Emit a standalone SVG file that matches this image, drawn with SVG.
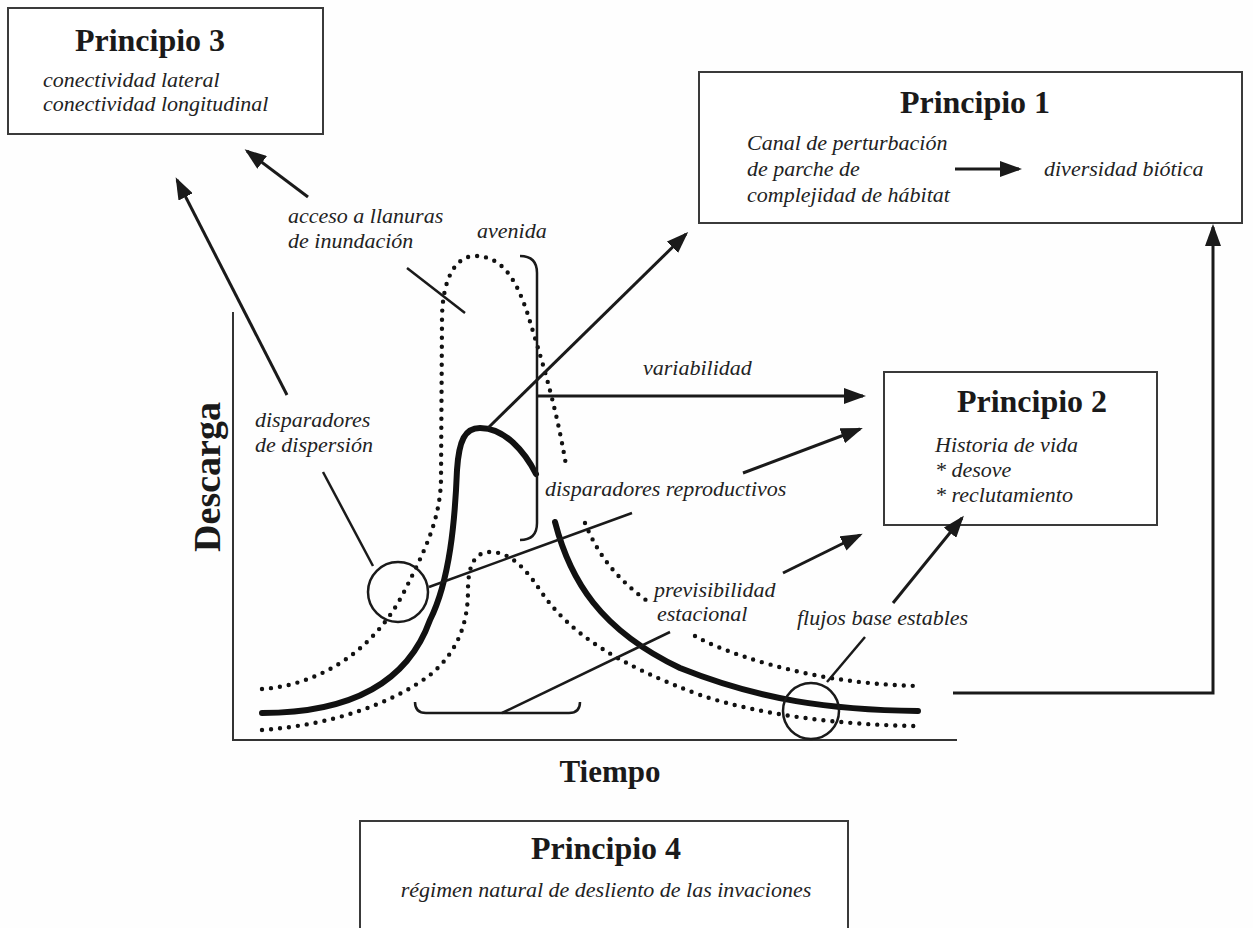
<svg xmlns="http://www.w3.org/2000/svg" width="1253" height="928" viewBox="0 0 1253 928">
<style>
.box{fill:#fff;stroke:#3a3a3a;stroke-width:2}
.title{font-family:"Liberation Serif","Times New Roman",serif;font-weight:bold;font-size:32px;text-anchor:middle;fill:#1a1a1a}
.it{font-family:"Liberation Serif","Times New Roman",serif;font-style:italic;font-size:22px;fill:#222}
.ln{stroke:#1a1a1a;stroke-width:2.5;fill:none}
.arr{stroke:#1a1a1a;stroke-width:3;fill:none;marker-end:url(#ah)}
.thick{stroke:#111;stroke-width:6;fill:none;stroke-linecap:round}
.dot{stroke:#111;stroke-width:4.4;fill:none;stroke-dasharray:0 9;stroke-linecap:round}
.axis{stroke:#333;stroke-width:2;fill:none}
</style>
<defs>
<marker id="ah" viewBox="0 0 22 16" refX="19" refY="8" markerWidth="22" markerHeight="16" markerUnits="userSpaceOnUse" orient="auto">
<path d="M0,0 L22,8 L0,16 z" fill="#1a1a1a"/>
</marker>
</defs>
<rect width="1253" height="928" fill="#fefefe"/>

<g id="p3">
<rect class="box" x="8" y="8" width="315" height="126"/>
<text class="title" x="150" y="51">Principio 3</text>
<text class="it" x="43" y="87">conectividad lateral</text>
<text class="it" x="43" y="111">conectividad longitudinal</text>
</g>

<g id="p1">
<rect class="box" x="699" y="72" width="543" height="151"/>
<text class="title" x="975" y="113">Principio 1</text>
<text class="it" x="747" y="150">Canal de perturbación</text>
<text class="it" x="747" y="176">de parche de</text>
<text class="it" x="747" y="202">complejidad de hábitat</text>
<line class="arr" x1="955" y1="169" x2="1019" y2="169"/>
<text class="it" x="1044" y="176">diversidad biótica</text>
</g>

<g id="p2">
<rect class="box" x="884" y="372" width="273" height="153"/>
<text class="title" x="1032" y="412">Principio 2</text>
<text class="it" x="935" y="452">Historia de vida</text>
<text class="it" x="935" y="477">* desove</text>
<text class="it" x="935" y="502">* reclutamiento</text>
</g>

<g id="p4">
<rect class="box" x="360" y="821" width="488" height="120"/>
<text class="title" x="606" y="859">Principio 4</text>
<text class="it" x="606" y="897" text-anchor="middle">régimen natural de desliento de las invaciones</text>
</g>

<g id="chart">
<path class="axis" d="M233,312 L233,740 L957,740"/>
<text class="title" style="font-size:31px" x="610" y="782">Tiempo</text>
<text class="title" style="font-size:38px" transform="translate(220,477) rotate(-90)" x="0" y="0">Descarga</text>
<path class="dot" d="M262,689 C320,685 375,650 405,590 C425,550 440,520 441,480 L442,320 C442,280 455,256 475,256 C500,256 515,275 528,315 C540,355 555,400 566,465"/>
<path class="dot" d="M585,523 C600,560 622,583 650,603"/>
<path class="dot" d="M695,636 C720,650 760,663 800,672 C840,681 880,685 918,686"/>
<path class="dot" d="M262,730 C330,725 390,705 430,675 C460,650 468,620 468,590 C468,565 475,552 490,552 C505,552 520,560 540,590 C570,635 620,665 700,695 C760,715 840,725 918,726"/>
<path class="thick" d="M262,713 C340,713 405,690 430,620 C450,580 455,520 457,470 C459,440 465,428 480,428 C505,428 525,452 536,474"/>
<path class="thick" d="M555,522 C570,580 600,630 680,668 C760,700 830,710 918,711"/>
</g>

<g id="labels">
<text class="it" x="288" y="223">acceso a llanuras</text>
<text class="it" x="288" y="248">de inundación</text>
<text class="it" x="477" y="238">avenida</text>
<text class="it" x="643" y="375">variabilidad</text>
<text class="it" x="255" y="427">disparadores</text>
<text class="it" x="255" y="452">de dispersión</text>
<text class="it" x="545" y="496">disparadores reproductivos</text>
<text class="it" x="654" y="597">previsibilidad</text>
<text class="it" x="657" y="621">estacional</text>
<text class="it" x="797" y="625">flujos base estables</text>
</g>

<g id="connectors">
<line class="arr" x1="287" y1="395" x2="177" y2="180"/>
<line class="arr" x1="308" y1="197" x2="247" y2="151"/>
<line class="ln" x1="407" y1="268" x2="465" y2="313"/>
<line class="ln" x1="323" y1="472" x2="373" y2="566"/>
<circle class="ln" cx="398" cy="592" r="30"/>
<line class="ln" x1="429" y1="587" x2="632" y2="513"/>
<line class="arr" x1="743" y1="473" x2="860" y2="429"/>
<path class="ln" d="M520,256 Q537,256 537,273 L537,523 Q537,540 520,540"/>
<line class="arr" x1="537" y1="396" x2="863" y2="396"/>
<line class="arr" x1="488" y1="428" x2="686" y2="234"/>
<path class="ln" d="M415,702 Q415,713 426,713 L569,713 Q580,713 580,702"/>
<line class="ln" x1="502" y1="713" x2="670" y2="632"/>
<line class="arr" x1="783" y1="573" x2="860" y2="535"/>
<circle class="ln" cx="811" cy="711" r="28"/>
<line class="ln" x1="827" y1="682" x2="865" y2="637"/>
<line class="arr" x1="893" y1="603" x2="962" y2="518"/>
<polyline class="arr" points="953,693 1213,693 1213,227"/>
</g>
</svg>
